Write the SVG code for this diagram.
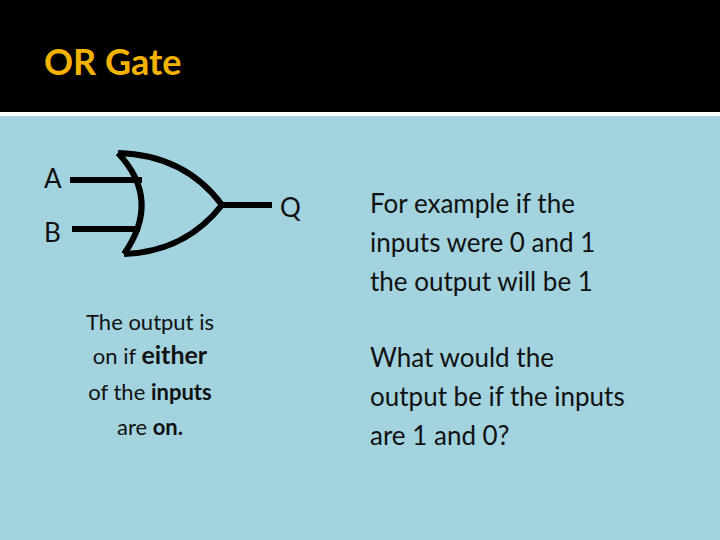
<svg xmlns="http://www.w3.org/2000/svg" width="720" height="540" viewBox="0 0 720 540">
<style>
.t{font-family:Lato,"Open Sans",sans-serif;fill:#111}
.b{font-weight:bold}
.w{stroke:#000;stroke-width:6;fill:none;stroke-linecap:butt}
</style>
<rect width="720" height="540" fill="#a3d3df"/>
<rect width="720" height="112" fill="#000"/>
<rect y="112" width="720" height="4" fill="#fff"/>
<text x="44" y="75" font-family="Lato,sans-serif" font-weight="bold" font-size="36" fill="#f2b300">OR Gate</text>
<g id="gate">
<path class="w" d="M118,153 Q185,155 222,205 Q185,252 124,254" stroke-width="7"/>
<path class="w" d="M118,153 Q162,200 124,254" stroke-width="7"/>
</g>
<g id="connectors">
<line class="w" x1="70" y1="180" x2="142" y2="180"/>
<line class="w" x1="72" y1="229" x2="140" y2="229"/>
<line class="w" x1="222" y1="205" x2="272" y2="205"/>
</g>
<g id="labels">
<text class="t" x="44" y="188" font-size="26">A</text>
<text class="t" x="44" y="242" font-size="26">B</text>
<text class="t" x="280" y="217" font-size="26">Q</text>
</g>
<g id="note" class="t" text-anchor="middle" font-size="22">
<text x="150" y="330">The output is</text>
<text x="150" y="364">on if <tspan class="b" font-size="25">either</tspan></text>
<text x="150" y="400">of the <tspan class="b">inputs</tspan></text>
<text x="150" y="435">are <tspan class="b">on.</tspan></text>
</g>
<g id="text" class="t" font-size="26">
<text x="370" y="213">For example if the</text>
<text x="370" y="252">inputs were 0  and 1</text>
<text x="370" y="291">the output will be 1</text>
<text x="370" y="367">What would the</text>
<text x="370" y="406">output be if the inputs</text>
<text x="370" y="445">are 1 and 0?</text>
</g>
</svg>
